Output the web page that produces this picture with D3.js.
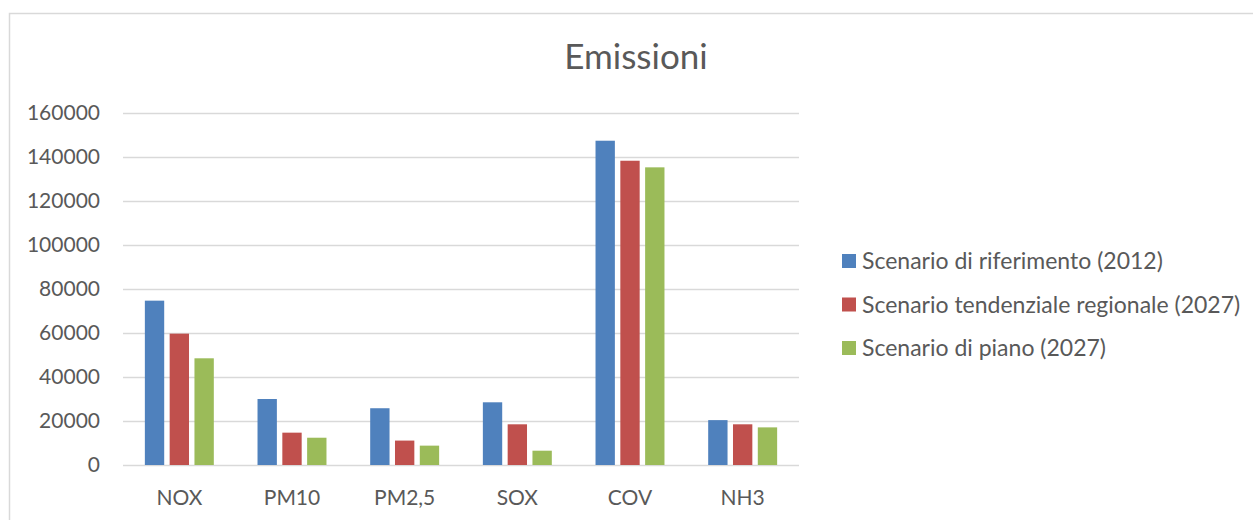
<!DOCTYPE html>
<html>
<head>
<meta charset="utf-8">
<script src="https://cdn.jsdelivr.net/npm/d3@7"></script>
<style>
  html, body { margin: 0; padding: 0; background: #ffffff; }
  svg { display: block; }
  text { font-family: Lato, "Open Sans", sans-serif; fill: #595959; }
</style>
</head>
<body>
<svg id="chart" width="1253" height="520"></svg>
<script>
// Pollutant categories
const categories = ["NOX", "PM10", "PM2,5", "SOX", "COV", "NH3"];

// Scenario names (legend order)
const seriesNames = [
  "Scenario di riferimento (2012)",
  "Scenario tendenziale regionale (2027)",
  "Scenario di piano (2027)"
];

// Emission values per scenario, one entry per category
const riferimento2012 = [74700, 30000, 25800, 28500, 147400, 20400];
const tendenziale2027 = [59700, 14700, 11100, 18500, 138300, 18500];
const piano2027       = [48500, 12400, 8800, 6500, 135300, 17100];

// Y axis tick values
const yTicks = [0, 20000, 40000, 60000, 80000, 100000, 120000, 140000, 160000];

const seriesValues = [riferimento2012, tendenziale2027, piano2027];
const colors = ["#4F81BD", "#C0504D", "#9BBB59"];

const svg = d3.select("#chart");

// Outer chart frame
svg.append("rect")
  .attr("x", 9.5).attr("y", 13.5)
  .attr("width", 1270).attr("height", 530)
  .attr("fill", "#ffffff")
  .attr("stroke", "#d9d9d9")
  .attr("stroke-width", 1.5);

const plot = { left: 123, right: 799, top: 113, bottom: 465 };

const x0 = d3.scaleBand()
  .domain(categories)
  .range([plot.left, plot.right])
  .padding(0);

const bw = x0.bandwidth();
const x1 = d3.scaleBand()
  .domain(d3.range(seriesValues.length))
  .range([bw * 0.194, bw * 0.806])
  .paddingInner(0.22);

const y = d3.scaleLinear()
  .domain([0, 160000])
  .range([plot.bottom, plot.top]);

// Horizontal gridlines and value labels
const yAxis = d3.axisLeft(y)
  .tickValues(yTicks)
  .tickFormat(d3.format("d"))
  .tickSize(-(plot.right - plot.left))
  .tickPadding(23);

const gy = svg.append("g")
  .attr("transform", `translate(${plot.left},0)`)
  .call(yAxis);
gy.select(".domain").remove();
gy.selectAll(".tick line")
  .attr("stroke", "#d9d9d9")
  .attr("stroke-width", 1.5);
gy.selectAll(".tick text")
  .attr("font-size", 21)
  .attr("fill", "#595959")
  .style("font-family", "Lato, sans-serif");

// Grouped bars
const groups = svg.append("g")
  .selectAll("g")
  .data(categories)
  .join("g")
  .attr("transform", d => `translate(${x0(d)},0)`);

groups.selectAll("rect")
  .data((d, i) => seriesValues.map((s, k) => ({ k, v: s[i] })))
  .join("rect")
  .attr("x", d => x1(d.k))
  .attr("width", x1.bandwidth())
  .attr("y", d => y(d.v))
  .attr("height", d => y(0) - y(d.v))
  .attr("fill", d => colors[d.k]);

// Category labels
const xAxis = d3.axisBottom(x0).tickSize(0).tickPadding(25);
const gx = svg.append("g")
  .attr("transform", `translate(0,${plot.bottom})`)
  .call(xAxis);
gx.select(".domain").remove();
gx.selectAll(".tick text")
  .attr("font-size", 21)
  .attr("fill", "#595959")
  .style("font-family", "Lato, sans-serif");

// Title
svg.append("text")
  .attr("x", 636)
  .attr("y", 69)
  .attr("text-anchor", "middle")
  .attr("font-size", 35)
  .text("Emissioni");

// Legend
const legend = svg.append("g")
  .attr("transform", "translate(842,261)");
const items = legend.selectAll("g")
  .data(seriesNames)
  .join("g")
  .attr("transform", (d, i) => `translate(0,${i * 43.5})`);
items.append("rect")
  .attr("x", 0).attr("y", -7)
  .attr("width", 14).attr("height", 14)
  .attr("fill", (d, i) => colors[i]);
items.append("text")
  .attr("x", 20)
  .attr("dy", "0.35em")
  .attr("font-size", 23)
  .text(d => d);
</script>
</body>
</html>
